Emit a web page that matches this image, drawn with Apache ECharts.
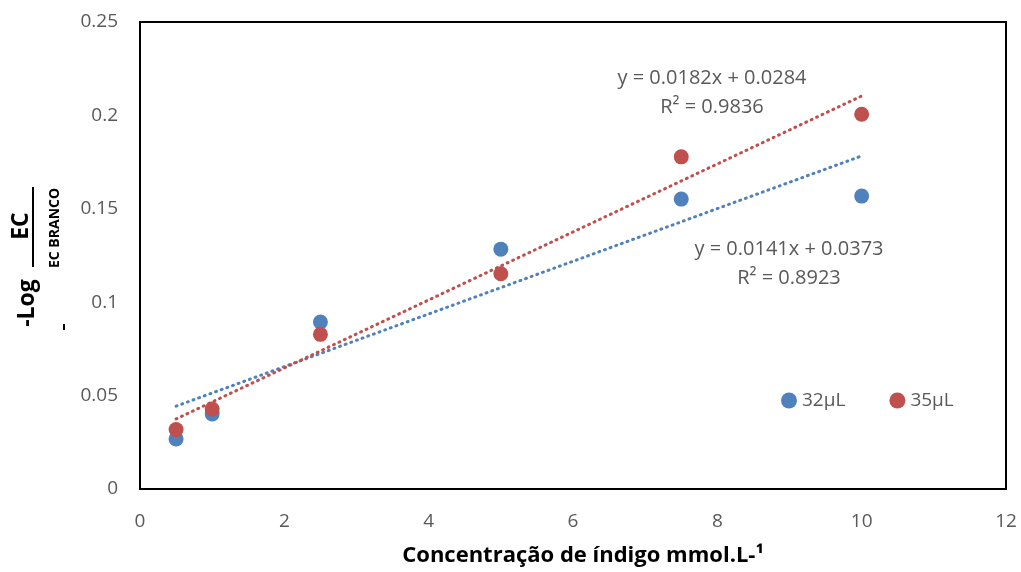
<!DOCTYPE html>
<html>
<head>
<meta charset="utf-8">
<script src="https://cdn.jsdelivr.net/npm/echarts@6/dist/echarts.min.js"></script>
<style>
  html, body { margin: 0; padding: 0; background: #fff; }
  #chart { width: 1021px; height: 572px; }
</style>
</head>
<body>
<div id="chart"></div>
<script>
// dados
const concentracoes = [0.5, 1, 2.5, 5, 7.5, 10];
const serie32 = [0.0268, 0.0402, 0.0894, 0.1284, 0.1552, 0.1568];
const serie35 = [0.0318, 0.0428, 0.0828, 0.1152, 0.1778, 0.2006];
const nomes = ['32μL', '35μL'];
// linhas de tendência (coeficientes impressos no gráfico)
const tendencia32 = { a: 0.0141, b: 0.0373, r2: '0.8923' };
const tendencia35 = { a: 0.0182, b: 0.0284, r2: '0.9836' };
const xTicks = [0, 2, 4, 6, 8, 10, 12];
const yTicks = [0, 0.05, 0.1, 0.15, 0.2, 0.25];

const azul = '#4F81BD';
const vermelho = '#C0504D';
const fonte = 'Open Sans, Liberation Sans, sans-serif';

const pontos = (ys) => concentracoes.map((x, i) => [x, ys[i]]);
const linha = (t) => {
  const x0 = concentracoes[0], x1 = concentracoes[concentracoes.length - 1];
  return [[x0, t.a * x0 + t.b], [x1, t.a * x1 + t.b]];
};
const equacao = (t) => 'y = ' + t.a + 'x + ' + t.b + '\nR² = ' + t.r2;

const myChart = echarts.init(document.getElementById('chart'));
myChart.setOption({
  animation: false,
  color: [azul, vermelho],
  grid: {
    left: 140, right: 15, top: 22, bottom: 83,
    outerBoundsMode: 'none', containLabel: false,
    show: true, borderColor: '#000', borderWidth: 2
  },
  xAxis: {
    type: 'value', min: xTicks[0], max: xTicks[xTicks.length - 1], interval: 2,
    axisLine: { show: false }, axisTick: { show: false }, splitLine: { show: false },
    axisLabel: { color: '#595959', fontSize: 19, fontFamily: fonte, margin: 23 },
    name: 'Concentração de índigo mmol.L-¹',
    nameLocation: 'middle', nameGap: 56,
    nameTextStyle: { color: '#000', fontSize: 22, fontWeight: 'bold', fontFamily: fonte, padding: [0, 0, 0, 20] }
  },
  yAxis: {
    type: 'value', min: yTicks[0], max: yTicks[yTicks.length - 1], interval: 0.05,
    axisLine: { show: false }, axisTick: { show: false }, splitLine: { show: false },
    axisLabel: { color: '#595959', fontSize: 19, fontFamily: fonte, margin: 22 }
  },
  legend: {
    data: nomes, left: 776, top: 386, itemGap: 44,
    icon: 'circle', itemWidth: 16, itemHeight: 16,
    textStyle: { color: '#595959', fontSize: 19, fontFamily: fonte }
  },
  series: [
    {
      name: nomes[0], type: 'scatter', data: pontos(serie32), symbolSize: 15,
      itemStyle: { color: azul, opacity: 1 }, z: 3
    },
    {
      name: nomes[1], type: 'scatter', data: pontos(serie35), symbolSize: 15,
      itemStyle: { color: vermelho, opacity: 1 }, z: 4
    },
    {
      type: 'line', data: linha(tendencia32), symbol: 'none',
      itemStyle: { color: azul },
      lineStyle: { color: azul, width: 3, type: [1, 5], cap: 'round' }, z: 1
    },
    {
      type: 'line', data: linha(tendencia35), symbol: 'none',
      itemStyle: { color: vermelho },
      lineStyle: { color: vermelho, width: 3, type: [1, 5], cap: 'round' }, z: 1
    }
  ],
  graphic: [
    {
      type: 'text', x: 712, y: 64,
      style: { text: equacao(tendencia35), fill: '#595959', fontSize: 20, fontFamily: fonte, align: 'center', lineHeight: 29 }
    },
    {
      type: 'text', x: 789, y: 235,
      style: { text: equacao(tendencia32), fill: '#595959', fontSize: 20, fontFamily: fonte, align: 'center', lineHeight: 29 }
    },
    // rótulo do eixo y: -Log (EC / EC BRANCO)
    {
      type: 'text', x: 27, y: 303, rotation: Math.PI / 2,
      style: { text: '-Log', fill: '#000', fontSize: 23, fontWeight: 'bold', fontFamily: fonte, align: 'center', verticalAlign: 'middle' }
    },
    {
      type: 'text', x: 21, y: 226, rotation: Math.PI / 2,
      style: { text: 'EC', fill: '#000', fontSize: 23, fontWeight: 'bold', fontFamily: fonte, align: 'center', verticalAlign: 'middle' }
    },
    {
      type: 'line', shape: { x1: 33, y1: 187, x2: 33, y2: 267 },
      style: { stroke: '#000', lineWidth: 2 }
    },
    {
      type: 'text', x: 55, y: 228, rotation: Math.PI / 2,
      style: { text: 'EC BRANCO', fill: '#000', fontSize: 14, fontWeight: 'bold', fontFamily: fonte, align: 'center', verticalAlign: 'middle' }
    },
    {
      type: 'line', shape: { x1: 64, y1: 324, x2: 64, y2: 330 },
      style: { stroke: '#000', lineWidth: 2 }
    }
  ]
});
</script>
</body>
</html>
